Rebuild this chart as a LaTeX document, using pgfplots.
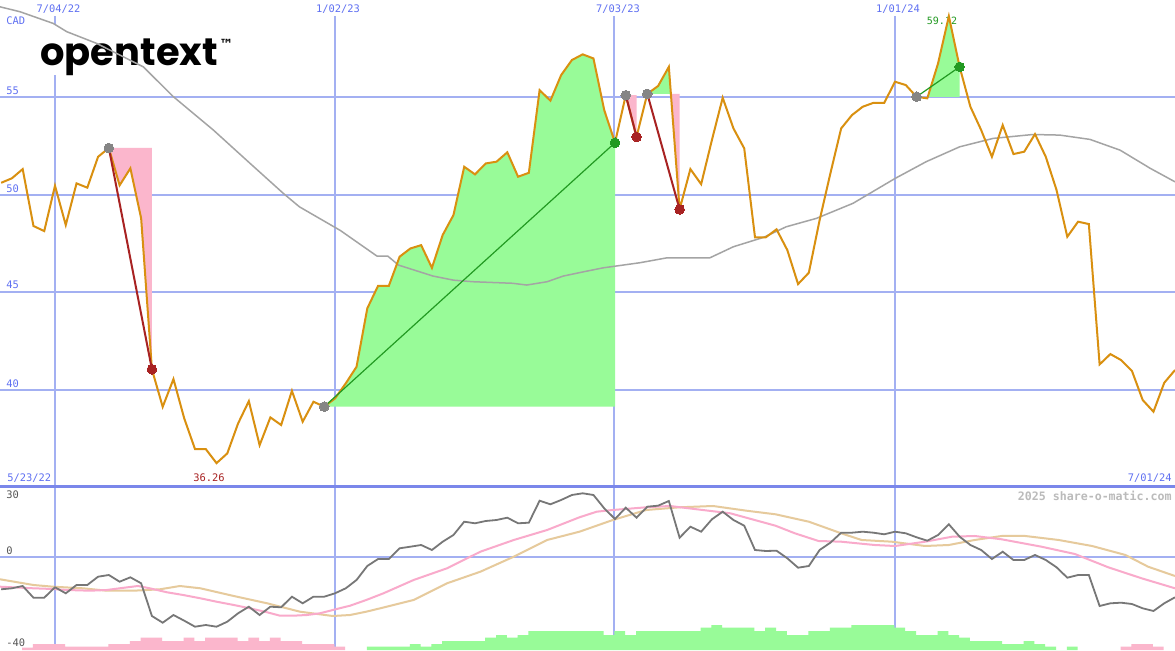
\documentclass[border=0pt]{standalone}
\usepackage{pgfplots}
\pgfplotsset{compat=1.18}
\usepackage{fontspec}
\newfontfamily\pixfont{DejaVu Sans Mono}
\newfontfamily\logofont{Poppins}
\newfontfamily\symfont{DejaVu Sans}
\definecolor{gridc}{HTML}{A3B0F2}
\definecolor{framec}{HTML}{7A87EA}
\definecolor{labc}{HTML}{5F70F2}
\definecolor{orangec}{HTML}{D99010}
\definecolor{mac}{HTML}{A4A4A4}
\definecolor{redc}{HTML}{A82222}
\definecolor{greenl}{HTML}{229A22}
\definecolor{greenf}{HTML}{98FB98}
\definecolor{pinkf}{HTML}{FBB6CC}
\definecolor{dotgray}{HTML}{858585}
\definecolor{macdc}{HTML}{777777}
\definecolor{sigc}{HTML}{F9AACB}
\definecolor{tanc}{HTML}{E6CA9C}
\definecolor{wmk}{HTML}{BBBBBB}
\definecolor{lab2}{HTML}{555555}

\pgfplotstableread{
w p
-5 50.60
-4 50.83
-3 51.30
-2 48.39
-1 48.13
0 50.45
1 48.44
2 50.57
3 50.35
4 51.93
5 52.38
6 50.47
7 51.34
8 48.78
9 41.06
10 39.14
11 40.56
12 38.55
13 36.98
14 36.98
15 36.26
16 36.76
17 38.29
18 39.43
19 37.18
20 38.60
21 38.21
22 39.96
23 38.38
24 39.40
25 39.15
26 39.57
27 40.34
28 41.19
29 44.18
30 45.33
31 45.33
32 46.82
33 47.24
34 47.41
35 46.25
36 47.93
37 48.95
38 51.42
39 51.03
40 51.59
41 51.68
42 52.16
43 50.91
44 51.11
45 55.34
46 54.80
47 56.11
48 56.88
49 57.17
50 56.96
51 54.32
52 52.65
53 55.08
54 52.95
55 55.15
56 55.55
57 56.53
58 49.24
59 51.30
60 50.53
61 52.79
62 54.95
63 53.38
64 52.36
65 47.81
66 47.81
67 48.22
68 47.16
69 45.42
70 46.00
71 48.69
72 51.08
73 53.38
74 54.06
75 54.49
76 54.69
77 54.69
78 55.77
79 55.60
80 55.00
81 54.92
82 56.71
83 59.12
84 56.53
85 54.49
86 53.30
87 51.93
88 53.55
89 52.07
90 52.19
91 53.09
92 51.93
93 50.23
94 47.84
95 48.61
96 48.49
97 41.31
98 41.84
99 41.53
100 40.98
101 39.49
102 38.89
103 40.37
104 41.02
}\price

\pgfplotstableread{
w m
-5.1 59.6
-3.25 59.35
-0.16 58.75
1.09 58.33
3.87 57.73
8.2 56.53
11.0 55.0
14.7 53.3
18.1 51.6
21.2 50.06
22.7 49.37
26.5 48.16
29.9 46.85
30.9 46.85
31.9 46.39
35.1 45.83
37.0 45.62
38.8 45.54
42.5 45.46
43.8 45.37
45.7 45.54
47.2 45.83
49.1 46.05
50.9 46.25
54.3 46.51
56.8 46.76
60.8 46.76
63.0 47.33
65.8 47.81
67.9 48.35
70.7 48.78
74.1 49.55
78.0 50.82
80.9 51.68
84.0 52.44
87.1 52.87
90.8 53.07
93.3 53.04
96.1 52.82
98.9 52.27
101.7 51.34
104 50.65
}\mavg

\pgfplotstableread{
w v
-5 -16.3
-4 -15.8
-3 -14.65
-2 -20.5
-1 -20.5
0 -15.3
1 -18.3
2 -14.15
3 -14.15
4 -10.0
5 -9.15
6 -12.5
7 -10.3
8 -13.3
9 -29.65
10 -33.0
11 -29.15
12 -32.0
13 -35.0
14 -34.15
15 -35.0
16 -32.5
17 -28.3
18 -25.0
19 -29.15
20 -25.0
21 -25.3
22 -20.0
23 -23.3
24 -20.0
25 -20.0
26 -18.3
27 -15.8
28 -11.65
29 -4.65
30 -1.15
31 -1.15
32 4.2
33 5.0
34 5.85
35 3.35
36 7.5
37 10.85
38 17.5
39 16.7
40 17.85
41 18.35
42 19.5
43 16.7
44 17.0
45 28.0
46 26.2
47 28.35
48 30.85
49 31.7
50 30.85
51 24.2
52 18.85
53 24.5
54 19.5
55 25.0
56 25.5
57 27.85
58 9.5
59 15.0
60 12.5
61 18.7
62 22.5
63 18.35
64 15.5
65 3.35
66 2.85
67 3.0
68 -0.8
69 -5.5
70 -4.65
71 3.35
72 7.0
73 12.0
74 12.0
75 12.5
76 12.0
77 11.2
78 12.5
79 11.7
80 9.7
81 8.0
82 10.85
83 16.2
84 10.0
85 5.85
86 3.35
87 -1.15
88 2.5
89 -1.65
90 -1.65
91 0.85
92 -1.65
93 -5.3
94 -10.5
95 -9.15
96 -9.15
97 -24.65
98 -23.3
99 -23.0
100 -23.65
101 -25.8
102 -27.15
103 -23.3
104 -20.3
}\macd

\pgfplotstableread{
w v
-5.1 -15.0
-2.0 -15.8
-0.2 -16.15
1.1 -16.65
3.25 -17.0
4.8 -16.65
6.0 -15.8
7.7 -14.65
8.8 -15.8
10.4 -17.8
11.9 -19.15
13.5 -20.8
15.0 -22.5
16.6 -24.15
18.1 -25.8
19.7 -27.8
20.9 -29.5
22.1 -29.5
23.4 -29.15
24.6 -28.3
25.8 -26.65
27.4 -24.5
28.9 -21.65
30.5 -18.3
33.3 -11.65
36.4 -5.8
39.5 2.5
42.6 8.35
45.7 13.35
48.7 19.7
50.3 22.5
51.8 23.35
54.9 24.7
57.1 25.35
59.6 23.7
62.7 21.7
66.9 15.5
68.7 11.7
70.9 7.85
73.0 7.5
76.1 5.85
78.0 5.35
80.8 7.5
83.3 10.0
85.4 10.35
87.9 8.7
91.6 5.0
94.7 1.35
97.8 -5.3
100.9 -10.8
104 -15.8
}\sig

\pgfplotstableread{
w v
-5.1 -11.3
-2.0 -14.15
-0.2 -15.0
2.6 -15.8
4.8 -17.0
7.3 -17.0
9.75 -16.3
11.6 -14.65
13.5 -15.8
16.6 -19.65
19.7 -23.3
22.75 -27.5
25.8 -29.65
27.4 -29.15
28.9 -27.5
30.2 -25.8
33.3 -21.65
36.4 -13.3
39.5 -7.5
42.6 0
45.7 8.35
48.7 12.5
51.8 18.35
54.9 23.35
58.0 24.7
61.1 25.35
64.2 23.0
66.9 21.2
70.0 17.5
73.0 11.7
74.9 8.35
77.7 7.5
80.8 5.35
83.0 5.85
85.4 8.35
87.9 10.35
90.1 10.35
93.2 8.35
96.3 5.35
99.4 0.85
101.5 -5.0
104 -9.65
}\tanl

\begin{document}
\begin{tikzpicture}[x=1pt,y=1pt]
\useasboundingbox (0,0) rectangle (587.5,325);
\fill[white] (0,0) rectangle (587.5,325);
% logo and under-line label
\node[anchor=base west, inner sep=0, font=\logofont\bfseries\fontsize{19.2}{19.2}\selectfont] at (20,292.4) {opentext};
\node[anchor=west, inner sep=0, font=\symfont\bfseries\fontsize{7}{7}\selectfont] at (109.5,303) {™};
\node[inner sep=0, text=greenl, font=\pixfont\fontsize{5}{6}\selectfont] at (471,314.5) {59.12};

% ---------- top panel ----------
\begin{axis}[at={(0pt,81.5pt)}, anchor=south west, scale only axis,
  width=587.5pt, height=243.5pt, xmin=-5.107, xmax=104, ymin=35.04, ymax=59.95, hide axis]
\draw[gridc, line width=1pt] (axis cs:-5.107,55) -- (axis cs:104,55);
\draw[gridc, line width=1pt] (axis cs:-5.107,50) -- (axis cs:104,50);
\draw[gridc, line width=1pt] (axis cs:-5.107,45) -- (axis cs:104,45);
\draw[gridc, line width=1pt] (axis cs:-5.107,40) -- (axis cs:104,40);
\draw[gridc, line width=1pt] (axis cs:0,59.13) -- (axis cs:0,58.67);
\draw[gridc, line width=1pt] (axis cs:0,56.11) -- (axis cs:0,35.04);
\draw[gridc, line width=0.6pt] (axis cs:26,59.13) -- (axis cs:26,35.04);
\draw[gridc, line width=1pt] (axis cs:51.9,59.13) -- (axis cs:51.9,35.04);
\draw[gridc, line width=0.6pt] (axis cs:78,59.13) -- (axis cs:78,35.04);
% fills
\addplot[draw=none, fill=pinkf] coordinates {(5,52.38) (6,50.47) (7,51.34) (8,48.78) (9,41.06) (9,52.38)};
\addplot[draw=none, fill=greenf] coordinates {(25,39.15) (26,39.57) (27,40.34) (28,41.19) (29,44.18) (30,45.33) (31,45.33) (32,46.82) (33,47.24) (34,47.41) (35,46.25) (36,47.93) (37,48.95) (38,51.42) (39,51.03) (40,51.59) (41,51.68) (42,52.16) (43,50.91) (44,51.11) (45,55.34) (46,54.80) (47,56.11) (48,56.88) (49,57.17) (50,56.96) (51,54.32) (52,52.65) (52,39.15)};
\addplot[draw=none, fill=pinkf] coordinates {(53,55.08) (54,52.95) (54,55.08)};
\addplot[draw=none, fill=greenf] coordinates {(55,55.15) (56,55.55) (57,56.53) (57.19,55.15)};
\addplot[draw=none, fill=pinkf] coordinates {(57.19,55.15) (58,49.24) (58,55.15)};
\addplot[draw=none, fill=pinkf] coordinates {(80,55) (81,54.92) (81.07,55)};
\addplot[draw=none, fill=greenf] coordinates {(81.07,55) (82,56.71) (83,59.12) (84,56.53) (84,55)};
% moving average and price
\addplot[mac, line width=0.75pt] table[x=w,y=m] {\mavg};
\addplot[orangec, line width=1pt] table[x=w,y=p] {\price};
% trend lines
\addplot[redc, line width=1pt] coordinates {(5,52.38) (9,41.06)};
\addplot[redc, line width=1pt] coordinates {(53,55.08) (54,52.95)};
\addplot[redc, line width=1pt] coordinates {(55,55.15) (58,49.24)};
\addplot[greenl, line width=0.6pt] coordinates {(25,39.15) (52,52.65)};
\addplot[greenl, line width=0.6pt] coordinates {(80,55) (84,56.53)};
% dots
\addplot[only marks, color=dotgray, mark=*, mark size=2.4pt, mark options={solid, fill=dotgray, draw=dotgray, line width=0pt}] coordinates {(5,52.38) (25,39.15) (53,55.08) (55,55.15) (80,55)};
\addplot[only marks, color=redc, mark=*, mark size=2.4pt, mark options={solid, fill=redc, draw=redc, line width=0pt}] coordinates {(9,41.06) (54,52.95) (58,49.24)};
\addplot[only marks, color=greenl, mark=*, mark size=2.4pt, mark options={solid, fill=greenl, draw=greenl, line width=0pt}] coordinates {(52,52.65) (84,56.53)};
\end{axis}

% ---------- bottom panel: grid and bars (pixel units) ----------
\begin{axis}[at={(0pt,0pt)}, anchor=south west, scale only axis,
  width=587.5pt, height=81.5pt, xmin=-5.107, xmax=104, ymin=0, ymax=163, hide axis]
\draw[gridc, line width=1pt] (axis cs:-5.107,93.3) -- (axis cs:104,93.3);
\draw[gridc, line width=1pt] (axis cs:0,0) -- (axis cs:0,163);
\draw[gridc, line width=0.6pt] (axis cs:26,0) -- (axis cs:26,163);
\draw[gridc, line width=1pt] (axis cs:51.9,0) -- (axis cs:51.9,163);
\draw[gridc, line width=0.6pt] (axis cs:78,0) -- (axis cs:78,163);
\addplot[const plot, draw=none, fill=pinkf] coordinates {(-3.05,2.3) (-2.05,6) (-1.05,6) (-0.05,6) (0.95,3.3) (1.95,3.3) (2.95,3.3) (3.95,3.3) (4.95,6) (5.95,6) (6.95,9) (7.95,12.3) (8.95,12.3) (9.95,9) (10.95,9) (11.95,12.3) (12.95,9) (13.95,12.3) (14.95,12.3) (15.95,12.3) (16.95,9) (17.95,12.3) (18.95,9) (19.95,12.3) (20.95,9) (21.95,9) (22.95,6) (23.95,6) (24.95,6) (25.95,3.3) (26.95,0)} \closedcycle;
\addplot[const plot, draw=none, fill=greenf] coordinates {(28.95,3.3) (29.95,3.3) (30.95,3.3) (31.95,3.3) (32.95,6) (33.95,3.3) (34.95,6) (35.95,9) (36.95,9) (37.95,9) (38.95,9) (39.95,12.3) (40.95,15) (41.95,12.3) (42.95,15) (43.95,19) (44.95,19) (45.95,19) (46.95,19) (47.95,19) (48.95,19) (49.95,19) (50.95,15) (51.95,19) (52.95,15) (53.95,19) (54.95,19) (55.95,19) (56.95,19) (57.95,19) (58.95,19) (59.95,22.3) (60.95,25) (61.95,22.3) (62.95,22.3) (63.95,22.3) (64.95,19) (65.95,22.3) (66.95,19) (67.95,15) (68.95,15) (69.95,19) (70.95,19) (71.95,22.3) (72.95,22.3) (73.95,25) (74.95,25) (75.95,25) (76.95,25) (77.95,22.3) (78.95,19) (79.95,15) (80.95,15) (81.95,19) (82.95,15) (83.95,12.3) (84.95,9) (85.95,9) (86.95,9) (87.95,6) (88.95,6) (89.95,9) (90.95,6) (91.95,3.3) (92.95,0) (93.95,3.3) (94.95,0)} \closedcycle;
\addplot[const plot, draw=none, fill=pinkf] coordinates {(98.95,3.3) (99.95,6) (100.95,6) (101.95,3.3) (102.95,0)} \closedcycle;
\end{axis}

% ---------- bottom panel: oscillator lines ----------
\begin{axis}[at={(0pt,0pt)}, anchor=south west, scale only axis,
  width=587.5pt, height=81.5pt, xmin=-5.107, xmax=104, ymin=-46.65, ymax=34.85, hide axis]
\addplot[tanc, line width=1pt] table[x=w,y=v] {\tanl};
\addplot[sigc, line width=1pt] table[x=w,y=v] {\sig};
\addplot[macdc, line width=0.9pt] table[x=w,y=v] {\macd};
\end{axis}

% panel separator
\draw[framec, line width=1.5pt] (0,81.65) -- (587.5,81.65);

% labels
\begin{scope}[every node/.style={inner sep=0, font=\pixfont\fontsize{5.2}{6}\selectfont}]
\node[anchor=west, text=labc] at (3,314.5) {CAD};
\node[text=labc] at (29.25,320.35) {7/04/22};
\node[text=labc] at (169,320.35) {1/02/23};
\node[text=labc] at (309,320.35) {7/03/23};
\node[text=labc] at (449,320.35) {1/01/24};
\node[anchor=west, text=labc] at (3,279.65) {55};
\node[anchor=west, text=labc] at (3,230.5) {50};
\node[anchor=west, text=labc] at (3,182.5) {45};
\node[anchor=west, text=labc] at (3,133) {40};
\node[anchor=west, text=labc] at (3.5,86) {5/23/22};
\node[text=redc] at (104.5,86) {36.26};
\node[anchor=east, text=labc] at (586,86) {7/01/24};
\node[anchor=west, text=lab2] at (3,77.5) {30};
\node[anchor=west, text=lab2] at (3,49.5) {0};
\node[anchor=west, text=lab2] at (3,3.5) {-40};
\node[anchor=east, text=wmk, font=\pixfont\bfseries\fontsize{5.8}{6}\selectfont] at (586,77) {2025 share-o-matic.com};
\end{scope}
\end{tikzpicture}
\end{document}
